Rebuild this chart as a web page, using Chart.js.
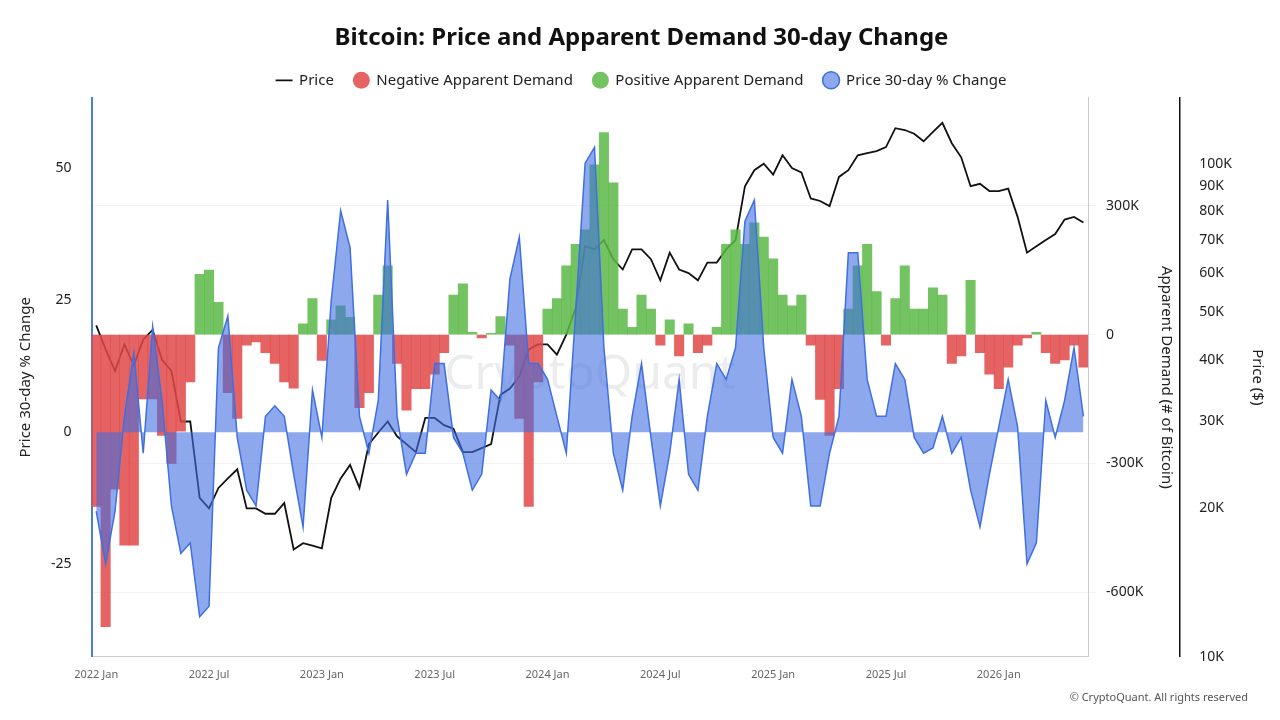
<!DOCTYPE html>
<html>
<head>
<meta charset="utf-8">
<script src="https://cdn.jsdelivr.net/npm/chart.js@4"></script>
<style>
  body { margin: 0; background: #fff; font-family: "Noto Sans", sans-serif; }
  #wrap { position: relative; width: 1280px; height: 720px; }
  #foot { position: absolute; right: 32px; bottom: 16px; font-size: 11px; color: #555; }
</style>
</head>
<body>
<div id="wrap">
  <canvas id="chart" width="1280" height="720"></canvas>
  <div id="foot">© CryptoQuant. All rights reserved</div>
</div>
<script>
// half-month periods, Jan 2022 .. May 2026
const months = ['Jan','Feb','Mar','Apr','May','Jun','Jul','Aug','Sep','Oct','Nov','Dec'];
const periods = [];
for (let y = 2022; y <= 2026; y++) {
    for (let m = 0; m < 12; m++) {
        if (y === 2026 && m > 4) break;
        periods.push(y + ' ' + months[m]);
        periods.push(y + ' ' + months[m] + ' 2');
    }
}
const xTickLabels = ['2022 Jan','2022 Jul','2023 Jan','2023 Jul','2024 Jan','2024 Jul','2025 Jan','2025 Jul','2026 Jan'];

// BTC price ($)
const price = [
    47000,42000,38000,43000,39000,44000,46000,40000,38000,30000,30000,21000,
    20000,22000,23000,24000,20000,20000,19500,19500,20500,16500,17000,16800,
    16600,21000,23000,24500,22000,27000,28500,30000,28000,27000,26000,30500,
    30500,29500,29000,26000,26000,26500,27000,34000,35000,37000,42000,43000,
    43000,41000,45000,51000,68000,67000,70000,64000,61000,67000,67000,64000,
    58000,66000,61000,60000,58000,63000,63000,67000,70000,90000,97000,100000,
    95000,104000,98000,96000,85000,84000,82000,94000,97000,104000,105000,106000,
    108000,118000,117000,115000,111000,116000,121000,110000,103000,90000,91000,88000,
    88000,89000,78000,66000,68000,70000,72000,77000,78000,76000
];
// Apparent demand (# of bitcoin, thousands)
const demandK = [
    -400,-680,-360,-490,-490,-150,-150,-235,-300,-225,-110,140,
    150,75,-135,-195,-25,-17,-42,-67,-110,-125,25,84,
    -60,34,67,40,-170,-135,92,160,-67,-176,-126,-126,
    -92,-42,92,118,5,-8,3,42,-25,-195,-400,-110,
    59,84,160,210,244,395,470,353,59,17,92,59,
    -25,34,-50,25,-42,-25,17,210,244,210,260,227,
    176,92,67,92,-25,-151,-235,-126,59,160,210,100,
    -25,84,160,59,59,109,92,-67,-50,126,-42,-92,
    -126,-76,-25,-8,5,-42,-67,-59,-25,-76
];
// Price 30-day % change
const pctChange = [
    -15,-25,-15,3,15,-4,20,6,-14,-23,-21,-35,
    -33,16,22,-1,-11,-14,3,5,3,-8,-18,8,
    -1,25,42,35,3,-4,6,44,3,-8,-4,-4,
    13,13,-1,-4,-11,-8,8,6,29,37,13,13,
    10,3,-4,23,51,54,16,-4,-11,3,13,-1,
    -14,-4,10,-8,-11,3,13,10,16,40,44,16,
    -1,-4,10,3,-14,-14,-4,3,34,34,10,3,
    3,13,10,-1,-4,-3,3,-4,-1,-11,-18,-8,
    1,10,1,-25,-21,6,-1,6,16,3
];
const priceTicks = [10000,20000,30000,40000,50000,60000,70000,80000,90000,100000];

const negDemand = demandK.map(v => v < 0 ? v * 1000 : null);
const posDemand = demandK.map(v => v >= 0 ? v * 1000 : null);

const watermark = {
    id: 'watermark',
    beforeDatasetsDraw(chart) {
        const ctx = chart.ctx;
        ctx.save();
        ctx.font = '48px "Noto Sans"';
        ctx.fillStyle = 'rgba(200,200,210,0.35)';
        ctx.textAlign = 'center';
        ctx.textBaseline = 'middle';
        ctx.fillText('CryptoQuant', 590, 375);
        ctx.restore();
    }
};

Chart.defaults.font.family = '"Noto Sans", sans-serif';
Chart.defaults.color = '#222';

new Chart(document.getElementById('chart').getContext('2d'), {
    type: 'bar',
    data: {
        labels: periods,
        datasets: [{
            type: 'line',
            label: 'Price',
            data: price,
            yAxisID: 'yPrice',
            borderColor: '#111',
            borderWidth: 1.8,
            pointRadius: 0,
            tension: 0,
            pointStyle: 'line',
            order: 4
        }, {
            label: 'Negative Apparent Demand',
            data: negDemand,
            yAxisID: 'yDemand',
            backgroundColor: 'rgba(224,72,72,0.85)',
            barPercentage: 1,
            categoryPercentage: 1,
            grouped: false,
            pointStyle: 'circle',
            order: 3
        }, {
            label: 'Positive Apparent Demand',
            data: posDemand,
            yAxisID: 'yDemand',
            backgroundColor: 'rgba(92,184,72,0.85)',
            barPercentage: 1,
            categoryPercentage: 1,
            grouped: false,
            pointStyle: 'circle',
            order: 2
        }, {
            type: 'line',
            label: 'Price 30-day % Change',
            data: pctChange,
            yAxisID: 'yPct',
            borderColor: '#3f6fe0',
            backgroundColor: 'rgba(65,110,225,0.6)',
            borderWidth: 1.5,
            fill: 'origin',
            pointRadius: 0,
            pointStyle: 'circle',
            order: 1
        }]
    },
    options: {
        responsive: false,
        animation: false,
        layout: { padding: { left: 13, right: 10, top: 20, bottom: 36 } },
        plugins: {
            title: {
                display: true,
                text: 'Bitcoin: Price and Apparent Demand 30-day Change',
                font: { size: 24, weight: 'bold' },
                color: '#111',
                padding: { top: 4, bottom: 0 }
            },
            legend: {
                labels: {
                    usePointStyle: true, boxWidth: 16, boxHeight: 12, font: { size: 15 }, padding: 20,
                    sort: (a, b) => a.datasetIndex - b.datasetIndex
                }
            },
            tooltip: { enabled: false }
        },
        scales: {
            x: {
                grid: { display: false },
                border: { color: '#ccc' },
                ticks: {
                    autoSkip: false,
                    maxRotation: 0,
                    color: '#666',
                    font: { size: 11 },
                    callback: (v, i) => i % 12 === 0 ? xTickLabels[i / 12] : null
                }
            },
            yPct: {
                position: 'left',
                min: -42.6,
                max: 63.4,
                grid: { display: false },
                border: { color: '#4a7fd8', width: 2 },
                afterBuildTicks: axis => { axis.ticks = [-25, 0, 25, 50].map(v => ({ value: v })); },
                ticks: { font: { size: 14 }, padding: 12 },
                title: { display: true, text: 'Price 30-day % Change', font: { size: 15 } }
            },
            yDemand: {
                position: 'right',
                min: -750000,
                max: 551000,
                grid: { color: '#f2f2f2' },
                border: { color: '#ccc' },
                afterBuildTicks: axis => { axis.ticks = [-600000, -300000, 0, 300000].map(v => ({ value: v })); },
                ticks: { font: { size: 14 }, padding: 10, callback: v => v === 0 ? '0' : (v / 1000) + 'K' },
                title: { display: true, text: 'Apparent Demand (# of Bitcoin)', font: { size: 15 } }
            },
            yPrice: {
                type: 'logarithmic',
                position: 'right',
                min: 10000,
                max: 136000,
                grid: { display: false },
                border: { color: '#111', width: 1.5 },
                afterBuildTicks: axis => { axis.ticks = priceTicks.map(v => ({ value: v })); },
                ticks: { font: { size: 14 }, padding: 12, callback: v => (v / 1000) + 'K' },
                title: { display: true, text: 'Price ($)', font: { size: 15 } }
            }
        }
    },
    plugins: [watermark]
});
</script>
</body>
</html>
